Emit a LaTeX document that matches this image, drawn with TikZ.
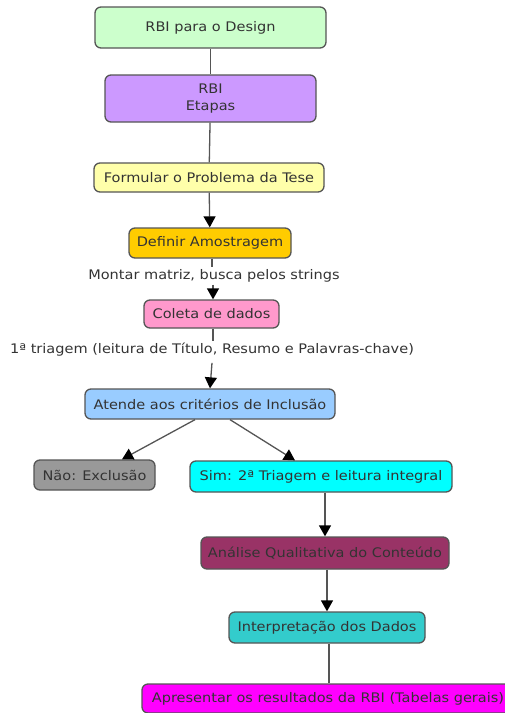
\documentclass[tikz,border=0pt]{standalone}
\usepackage{fontspec}
\setmainfont[FakeStretch=1.1]{DejaVu Sans}
\usetikzlibrary{arrows.meta}
\definecolor{cgreen}{HTML}{CCFFCC}
\definecolor{cpurple}{HTML}{CC99FF}
\definecolor{cyellow}{HTML}{FFFFAA}
\definecolor{corange}{HTML}{FFCC00}
\definecolor{cpink}{HTML}{FF99CC}
\definecolor{cblue}{HTML}{99CCFF}
\definecolor{cgray}{HTML}{999999}
\definecolor{ccyan}{HTML}{00FFFF}
\definecolor{cplum}{HTML}{993366}
\definecolor{cteal}{HTML}{33CCCC}
\definecolor{cmag}{HTML}{FF00FF}
\definecolor{cborder}{HTML}{555555}
\definecolor{ctext}{HTML}{333333}
\tikzset{
  box/.style={draw=cborder, line width=1.3pt, rounded corners=6pt, inner sep=0pt,
    font=\fontsize{13.2}{17}\selectfont, text=ctext, align=center},
  lbl/.style={inner sep=2pt, font=\fontsize{13.2}{17}\selectfont, text=ctext},
  conn/.style={draw=cborder, line width=1.3pt},
  arr/.style={conn, -{Triangle[width=12pt,length=11pt,color=black]}}
}
\begin{document}
\begin{tikzpicture}[x=1pt,y=-1pt]
\useasboundingbox (0,0) rectangle (505,713);
\node[box, fill=cgreen, minimum width=231pt, minimum height=41pt] (n1) at (210.5,27.5) {RBI para o Design};
\node[box, fill=cpurple, minimum width=211pt, minimum height=47pt] (n2) at (210.5,98.5) {RBI\\Etapas};
\node[box, fill=cyellow, minimum width=230pt, minimum height=29pt] (n3) at (209,177.5) {Formular o Problema da Tese};
\node[box, fill=corange, minimum width=162pt, minimum height=30pt] (n4) at (210,243) {Definir Amostragem};
\node[lbl] (l1) at (214,276) {Montar matriz, busca pelos strings};
\node[box, fill=cpink, minimum width=135pt, minimum height=28pt] (n6) at (211.5,314) {Coleta de dados};
\node[lbl] (l2) at (212,350) {1ª triagem (leitura de Título, Resumo e Palavras-chave)};
\node[box, fill=cblue, minimum width=250pt, minimum height=30pt] (n8) at (210,404) {Atende aos critérios de Inclusão};
\node[box, fill=cgray, minimum width=121pt, minimum height=30pt] (n9) at (94.5,475) {Não: Exclusão};
\node[box, fill=ccyan, minimum width=262pt, minimum height=31pt] (n10) at (321,476.5) {Sim: 2ª Triagem e leitura integral};
\node[box, fill=cplum, minimum width=248pt, minimum height=32pt] (n11) at (325,553) {Análise Qualitativa do Conteúdo};
\node[box, fill=cteal, minimum width=196pt, minimum height=31pt] (n12) at (327,627.5) {Interpretação dos Dados};
\node[box, fill=cmag, minimum width=372pt, minimum height=29pt] (n13) at (328,698.5) {Apresentar os resultados da RBI (Tabelas gerais)};

\draw[conn] (n1) -- (n2);
\draw[conn] (n2) -- (n3);
\draw[arr] (n3) -- (n4);
\draw[conn] ([xshift=2pt]n4.south) -- ([xshift=-2pt]l1.north);
\draw[arr] ([xshift=-1pt]l1.south) -- ([xshift=1.5pt]n6.north);
\draw[conn] ([xshift=1.5pt]n6.south) -- ([xshift=1pt]l2.north);
\draw[arr] ([yshift=-4pt]l2.south) -- (n8.north);
\draw[arr] ([xshift=-15pt]n8.south) -- ([xshift=27.5pt]n9.north);
\draw[arr] ([xshift=20pt]n8.south) -- ([xshift=-26pt]n10.north);
\draw[arr] ([xshift=4pt]n10.south) -- (n11.north);
\draw[arr] ([xshift=2pt]n11.south) -- (n12.north);
\draw[conn] ([xshift=2pt]n12.south) -- ([xshift=1pt]n13.north);
\end{tikzpicture}
\end{document}
